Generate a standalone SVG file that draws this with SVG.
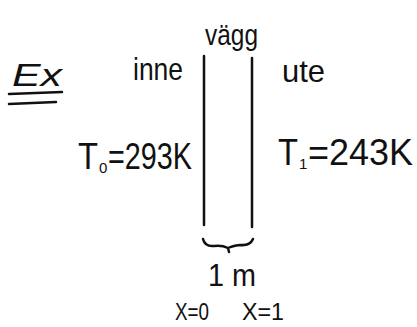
<svg xmlns="http://www.w3.org/2000/svg" width="417" height="327" viewBox="0 0 417 327">
<style>
.t{font-family:"Liberation Sans",Arial,sans-serif;fill:#111;}
.ln{stroke:#111;stroke-width:2.5;fill:none;stroke-linecap:round;stroke-linejoin:round;}
</style>
<rect width="417" height="327" fill="#fff"/>
<g id="title">
<text class="t" x="12" y="86" font-size="32" font-style="italic" textLength="50" lengthAdjust="spacingAndGlyphs">Ex</text>
<path class="ln" d="M9 94 L62 92 M9 104 L56 102"/>
</g>
<g id="wall">
<path class="ln" d="M204 56 L204 225 M252 58 L252 227"/>
<text class="t" x="205" y="45" font-size="30" textLength="53" lengthAdjust="spacingAndGlyphs">vägg</text>
</g>
<g id="inne">
<text class="t" x="133" y="80" font-size="32" textLength="50" lengthAdjust="spacingAndGlyphs">inne</text>
</g>
<g id="ute">
<text class="t" x="282" y="82" font-size="32" textLength="43" lengthAdjust="spacingAndGlyphs">ute</text>
</g>
<g id="T0">
<text class="t" x="78" y="169" font-size="36" textLength="20" lengthAdjust="spacingAndGlyphs">T</text>
<text class="t" x="99" y="173" font-size="15">0</text>
<text class="t" x="108" y="169" font-size="36" textLength="84" lengthAdjust="spacingAndGlyphs">=293K</text>
</g>
<g id="T1">
<text class="t" x="278" y="165" font-size="36" textLength="20" lengthAdjust="spacingAndGlyphs">T</text>
<text class="t" x="299" y="169" font-size="15">1</text>
<text class="t" x="308" y="165" font-size="36" textLength="105" lengthAdjust="spacingAndGlyphs">=243K</text>
</g>
<g id="brace">
<path class="ln" d="M203 239 Q205 247 214 246 Q222 245 228 248 Q232 246 240 245 Q250 246 253 239 M228 248 L229 252"/>
</g>
<g id="length">
<text class="t" x="208" y="286" font-size="32" textLength="48" lengthAdjust="spacingAndGlyphs">1 m</text>
</g>
<g id="coords">
<text class="t" x="175" y="320" font-size="24" textLength="34" lengthAdjust="spacingAndGlyphs">X=0</text>
<text class="t" x="242" y="320" font-size="24" textLength="42" lengthAdjust="spacingAndGlyphs">X=1</text>
</g>
</svg>
